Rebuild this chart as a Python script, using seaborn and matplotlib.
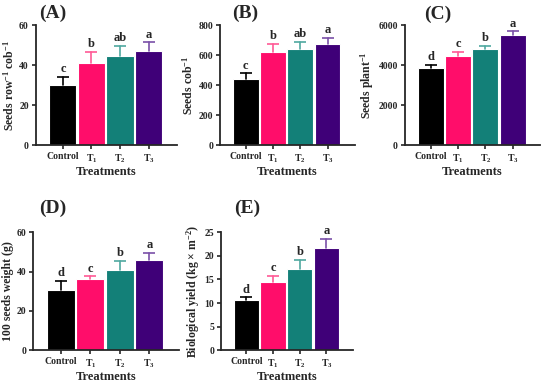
import pandas as pd
import matplotlib.pyplot as plt
import seaborn as sns

# treatments and colours
treatments = ["Control", "T$_1$", "T$_2$", "T$_3$"]
colors = ["#000000", "#FF0D6A", "#138078", "#3F0078"]
err_colors = ["#000000", "#FF5A96", "#4FA8A0", "#7A50A8"]

# panel values (mean, sd, letters)
row_cob = [30.0, 41.2, 44.5, 47.0]
row_cob_sd = [4.0, 5.5, 5.0, 4.3]
row_cob_let = ["c", "b", "ab", "a"]

seeds_cob = [440, 620, 640, 672]
seeds_cob_sd = [38, 55, 50, 40]
seeds_cob_let = ["c", "b", "ab", "a"]

seeds_plant = [3830, 4450, 4780, 5500]
seeds_plant_sd = [180, 200, 180, 180]
seeds_plant_let = ["d", "c", "b", "a"]

weight100 = [30.5, 36.3, 40.8, 45.8]
weight100_sd = [4.6, 1.3, 4.8, 3.8]
weight100_let = ["d", "c", "b", "a"]

bio_yield = [10.6, 14.4, 17.3, 21.6]
bio_yield_sd = [0.6, 1.4, 1.8, 1.9]
bio_yield_let = ["d", "c", "b", "a"]

sns.set_style("ticks")
plt.rcParams["font.family"] = ["Liberation Serif", "DejaVu Serif"]
plt.rcParams["font.weight"] = "bold"
plt.rcParams["mathtext.fontset"] = "custom"
plt.rcParams["mathtext.rm"] = "Liberation Serif:bold"
plt.rcParams["mathtext.it"] = "Liberation Serif:bold"
plt.rcParams["mathtext.bf"] = "Liberation Serif:bold"
plt.rcParams["mathtext.default"] = "rm"

fig = plt.figure(figsize=(5.5, 3.85), dpi=100)

panels = [
    ("(A)", row_cob, row_cob_sd, row_cob_let, "Seeds row$^{-1}$ cob$^{-1}$",
     [0.065, 0.623, 0.257, 0.312], (0, 60), [0, 20, 40, 60], (53, 13)),
    ("(B)", seeds_cob, seeds_cob_sd, seeds_cob_let, "Seeds cob$^{-1}$",
     [0.400, 0.623, 0.245, 0.312], (0, 800), [0, 200, 400, 600, 800], (245, 13)),
    ("(C)", seeds_plant, seeds_plant_sd, seeds_plant_let, "Seeds plant$^{-1}$",
     [0.736, 0.623, 0.246, 0.312], (0, 6000), [0, 2000, 4000, 6000], (438, 14)),
    ("(D)", weight100, weight100_sd, weight100_let, "100 seeds weight (g)",
     [0.060, 0.090, 0.265, 0.307], (0, 60), [0, 20, 40, 60], (53, 208)),
    ("(E)", bio_yield, bio_yield_sd, bio_yield_let, "Biological yield (kg × m$^{-2}$)",
     [0.402, 0.090, 0.240, 0.307], (0, 25), [0, 5, 10, 15, 20, 25], (247, 208)),
]

for label, vals, sds, lets, ylab, pos, ylim, yticks, lab_xy in panels:
    ax = fig.add_axes(pos)
    df = pd.DataFrame({"Treatment": treatments, "value": vals})
    sns.barplot(data=df, x="Treatment", y="value", hue="Treatment",
                palette=colors, saturation=1, width=0.95, edgecolor="white",
                linewidth=0.8, legend=False, ax=ax, errorbar=None)
    # upward-only error bars with a single top cap
    for i, (v, s, c) in enumerate(zip(vals, sds, err_colors)):
        ax.plot([i, i], [v, v + s], color=c, lw=1.2, zorder=3)
        ax.plot(i, v + s, marker="_", markersize=9, mew=1.2, color=c, zorder=3)
        ax.text(i, v + s + ylim[1] * 0.015, lets[i], ha="center", va="bottom",
                fontsize=9, fontweight="bold")
    ax.set_xlim(-0.95, 4.0)
    ax.set_ylim(*ylim)
    ax.set_yticks(yticks)
    ax.set_xlabel("Treatments", fontsize=9, fontweight="bold", labelpad=1)
    ax.set_ylabel(ylab, fontsize=8.5, fontweight="bold", labelpad=2)
    ax.tick_params(axis="both", labelsize=7, width=1.2, length=3, pad=2)
    for t in ax.get_xticklabels() + ax.get_yticklabels():
        t.set_fontweight("bold")
    sns.despine(ax=ax)
    ax.spines["left"].set_linewidth(1.3)
    ax.spines["bottom"].set_linewidth(1.3)
    fig.text(lab_xy[0] / 550, 1 - lab_xy[1] / 385, label, ha="center",
             va="center", fontsize=14, fontweight="bold")

plt.savefig("out.png", dpi=100)
